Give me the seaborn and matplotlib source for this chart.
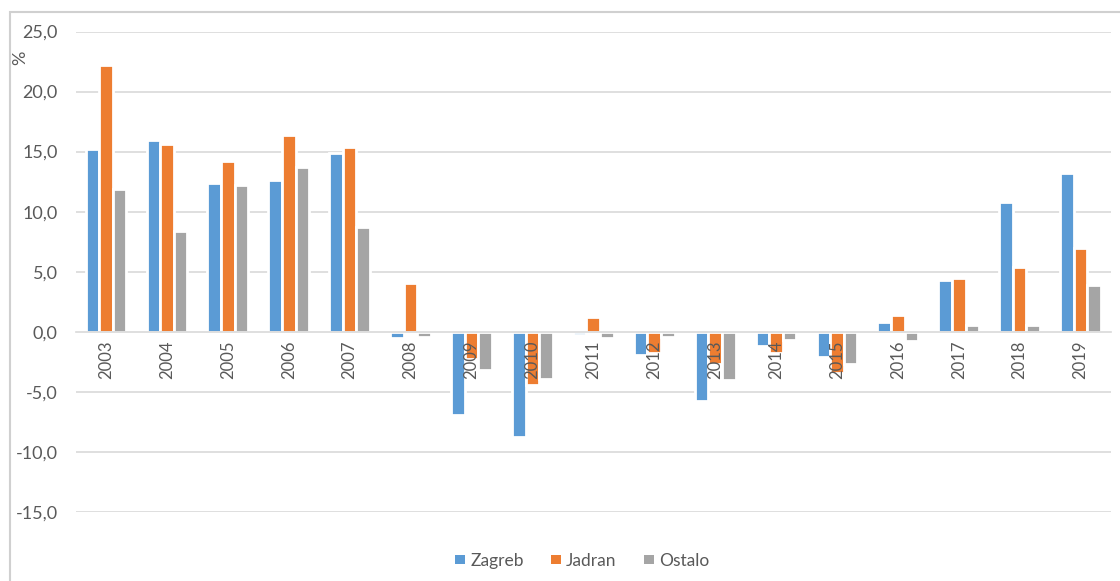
import numpy as np
import pandas as pd
import matplotlib
matplotlib.use('Agg')
import matplotlib.pyplot as plt
from matplotlib.patches import Rectangle, Patch
from matplotlib.ticker import FuncFormatter
import seaborn as sns

years = [str(y) for y in range(2003, 2020)]
zagreb = [15.2, 16.0, 12.4, 12.6, 14.9, -0.55, -6.9, -8.75, -0.28, -1.9, -5.8, -1.2, -2.1, 0.83, 4.3, 10.8, 13.2]
jadran = [22.2, 15.6, 14.25, 16.4, 15.4, 4.1, -2.3, -4.4, 1.2, -1.8, -2.7, -1.8, -3.4, 1.4, 4.45, 5.4, 7.0]
ostalo = [11.9, 8.4, 12.2, 13.7, 8.7, -0.4, -3.2, -3.9, -0.55, -0.4, -4.0, -0.65, -2.65, -0.8, 0.58, 0.58, 3.9]
series = ['Zagreb', 'Jadran', 'Ostalo']
colors = ['#5B9BD5', '#ED7D31', '#A5A5A5']
yticks = [-15, -10, -5, 0, 5, 10, 15, 20, 25]

df = pd.DataFrame({'year': years, 'Zagreb': zagreb, 'Jadran': jadran, 'Ostalo': ostalo})
df = df.melt(id_vars='year', var_name='series', value_name='value')

sns.set_style('white')
plt.rcParams['font.family'] = ['Lato', 'DejaVu Sans']
txt = '#595959'

fig = plt.figure(figsize=(11.2, 5.81), dpi=100)
ax = fig.add_axes([75.6 / 1120, 1 - 512 / 581, (1111 - 75.6) / 1120, (512 - 31.5) / 581])

sns.barplot(data=df, x='year', y='value', hue='series', hue_order=series,
            palette=colors, width=0.67, edgecolor='white', linewidth=2.0,
            saturation=1, legend=False, ax=ax)

# gridlines under the bars, axis (and year labels) above them
ax.set_axisbelow(False)
for t in yticks:
    if t != 0:
        ax.axhline(t, color='#d9d9d9', lw=1.2, zorder=0)

ax.set_ylim(-15, 25)
ax.set_xlim(-0.5, len(years) - 0.5)
ax.set_yticks(yticks)
ax.yaxis.set_major_formatter(FuncFormatter(lambda v, p: f'{v:.1f}'.replace('.', ',')))
ax.set_xlabel('')
ax.set_ylabel('')

for s in ['top', 'right', 'left']:
    ax.spines[s].set_visible(False)
ax.spines['bottom'].set_position(('data', 0))
ax.spines['bottom'].set_color('#d9d9d9')
ax.spines['bottom'].set_linewidth(1.2)

ax.tick_params(axis='y', length=0, pad=13, labelsize=13, labelcolor=txt)
ax.tick_params(axis='x', length=0, pad=6, labelsize=12, labelcolor=txt, labelrotation=90)

handles = [Patch(facecolor=c, edgecolor='none') for c in colors]
fig.legend(handles, series, loc='center', bbox_to_anchor=(0.52, 1 - 561 / 581), ncol=3,
           frameon=False, handlelength=0.55, handleheight=0.45, handletextpad=0.3,
           columnspacing=1.6, fontsize=12.5, labelcolor=txt)

fig.text(20 / 1120, 1 - 58 / 581, '%', rotation=90, ha='center', va='center',
         fontsize=13, color=txt)

# outer chart frame
fig.patches.append(Rectangle((10 / 1120, -0.2), 1.2, 1.2 - 11.5 / 581,
                             transform=fig.transFigure, fill=False,
                             edgecolor='#d0d0d0', lw=1.5))

fig.savefig('out.png', dpi=100)
